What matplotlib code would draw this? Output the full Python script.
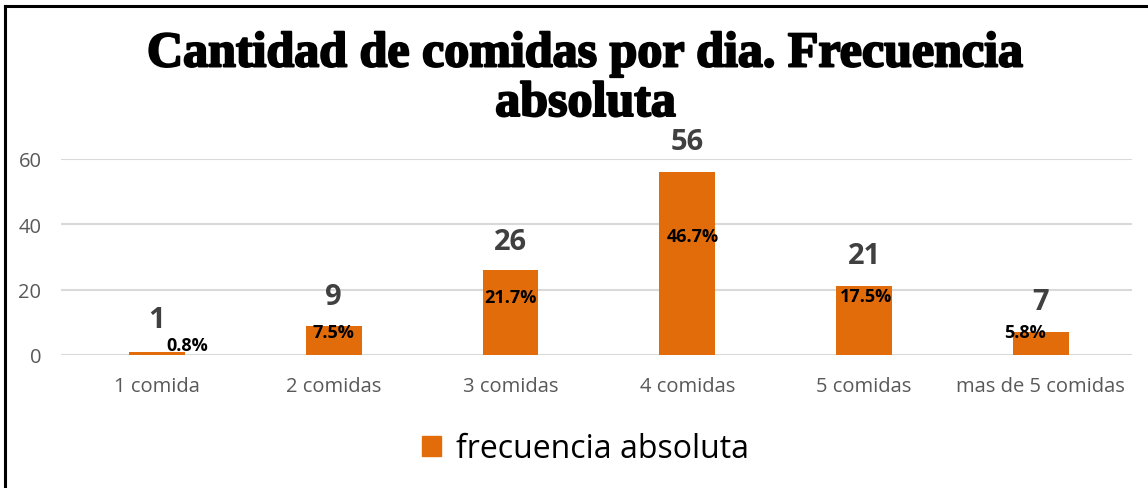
import matplotlib.pyplot as plt
import matplotlib.patheffects as pe
from matplotlib.patches import Patch
from matplotlib.lines import Line2D

# Data
categories = ['1 comida', '2 comidas', '3 comidas', '4 comidas', '5 comidas', 'mas de 5 comidas']
frecuencia = [1, 9, 26, 56, 21, 7]
porcentaje = ['0.8%', '7.5%', '21.7%', '46.7%', '17.5%', '5.8%']

orange = '#E36C0A'
x = range(len(categories))

fig = plt.figure(figsize=(11.48, 4.89), dpi=100)
ax = fig.add_axes([0.053, 0.272, 0.933, 0.401])

ax.bar(x, frecuencia, width=0.315, color=orange, zorder=3)

# grid / axes styling
ax.set_xlim(-0.543, 5.515)
ax.set_ylim(0, 60)
ax.set_yticks([0, 20, 40, 60])
ax.yaxis.grid(True, color='#D9D9D9', linewidth=1.5, zorder=0)
for s in ax.spines.values():
    s.set_visible(False)
ax.tick_params(axis='both', length=0, labelsize=14.5, labelcolor='#595959')
ax.tick_params(axis='y', pad=14)
ax.tick_params(axis='x', pad=15)
ax.set_xticks(list(x))
ax.set_xticklabels(categories, fontfamily='Open Sans')
for lbl in ax.get_yticklabels():
    lbl.set_fontfamily('Open Sans')

# value labels above bars
val_dy = [10, 9, 8.7, 9.2, 9.3, 9.5]
for i, v in enumerate(frecuencia):
    ax.text(i, v + val_dy[i], str(v), ha='center', va='center', fontsize=21,
            fontweight='bold', color='#404040', family='Open Sans', clip_on=False)

# percentage labels
pct_dx = [0.17, 0.0, 0.0, 0.03, 0.01, -0.09]
pct_y = [3.1, 7.0, 17.8, 36.4, 18.1, 7.0]
for i, p in enumerate(porcentaje):
    ax.text(i + pct_dx[i], pct_y[i], p, ha='center', va='center', fontsize=13,
            fontweight='bold', color='black', family='Open Sans')

# title
fig.text(0.51, 0.836, 'Cantidad de comidas por dia. Frecuencia\nabsoluta',
         ha='center', va='center', fontsize=36, fontweight='bold',
         family='Liberation Serif', linespacing=1.1,
         path_effects=[pe.withStroke(linewidth=1.5, foreground='black')])

# legend
fig.legend(handles=[Patch(color=orange, label='frecuencia absoluta')],
           loc='center', bbox_to_anchor=(0.51, 0.08), frameon=False,
           handlelength=0.6, handleheight=0.6, handletextpad=0.45,
           prop={'family': 'Open Sans', 'size': 23})

# outer border (top and left)
fig.add_artist(Line2D([0.0045, 1.0], [0.986, 0.986], color='black', linewidth=2.2,
                      transform=fig.transFigure))
fig.add_artist(Line2D([0.0045, 0.0045], [0.0, 0.986], color='black', linewidth=2.2,
                      transform=fig.transFigure))

fig.savefig('out.png', dpi=100)
